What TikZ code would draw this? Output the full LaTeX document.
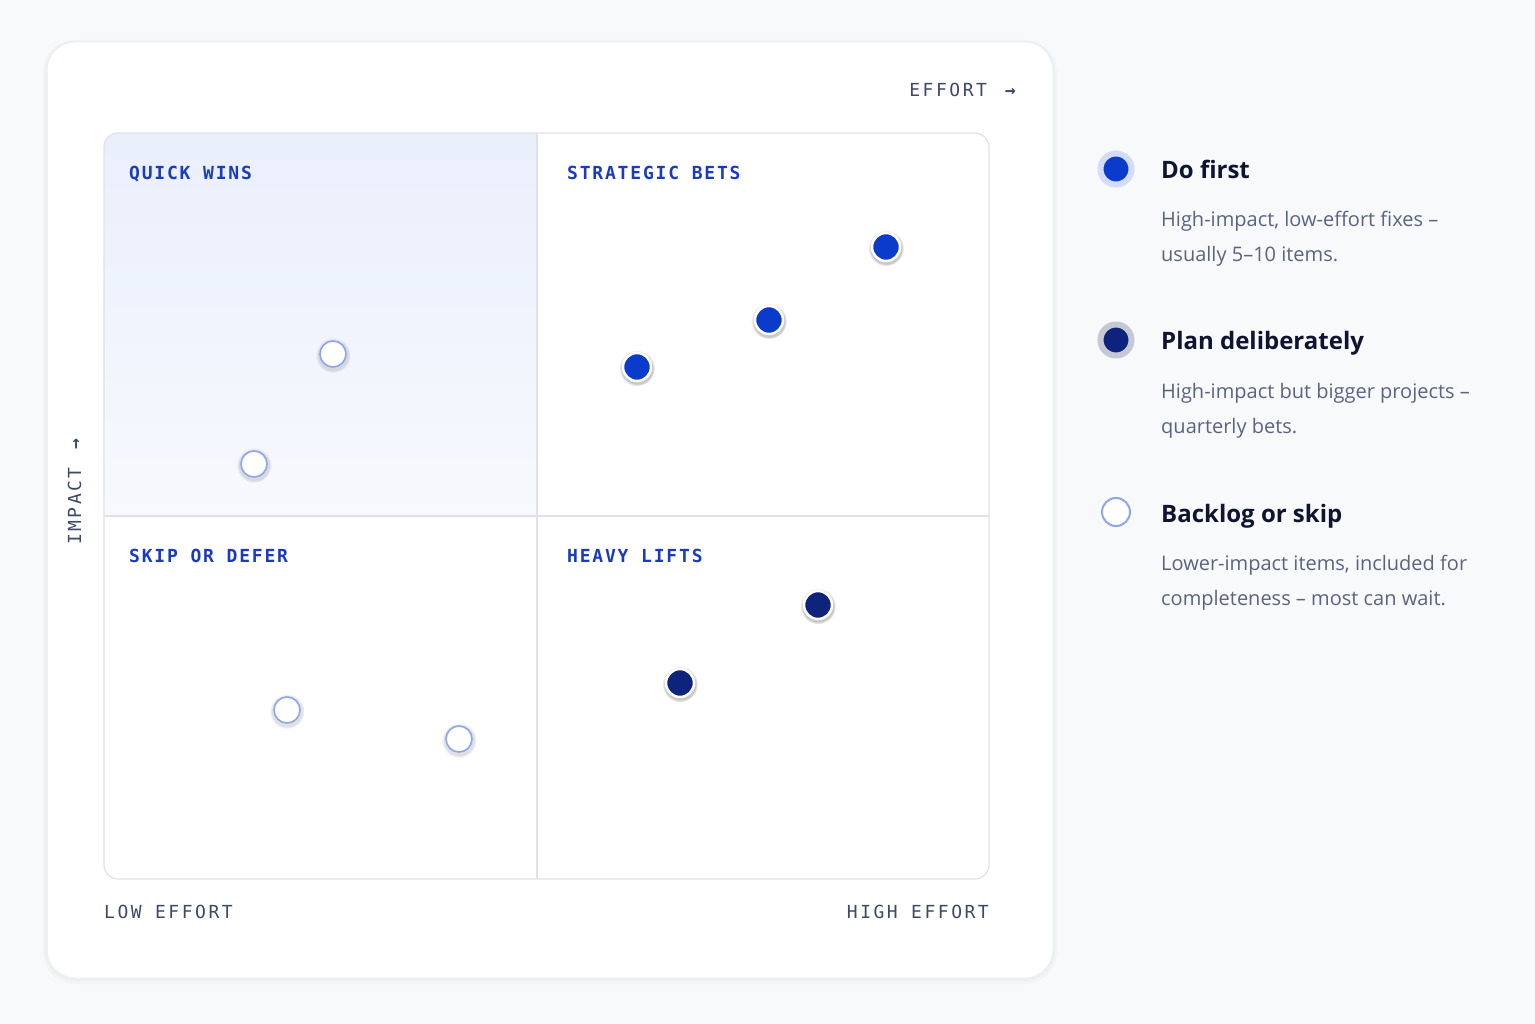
\documentclass[tikz,border=0pt]{standalone}
\usepackage{fontspec}
\setmainfont{Open Sans}
\newfontfamily\labelfont[LetterSpace=10]{DejaVu Sans Mono}
\newfontfamily\axisfont[LetterSpace=14]{DejaVu Sans Mono}
\usetikzlibrary{shadows}

\definecolor{pagebg}{HTML}{F8F9FA}
\definecolor{cardline}{HTML}{ECEEF1}
\definecolor{gridline}{HTML}{E0E2E7}
\definecolor{qwtop}{HTML}{EAEFFC}
\definecolor{qwbottom}{HTML}{F8F9FE}
\definecolor{labelblue}{HTML}{1A3BBE}
\definecolor{axisink}{HTML}{3E4966}
\definecolor{dotblue}{HTML}{0B3BCB}
\definecolor{dotnavy}{HTML}{0D237C}
\definecolor{hollowblue}{HTML}{8EA7EC}
\definecolor{halofirst}{HTML}{D3DCFA}
\definecolor{haloplan}{HTML}{C6C9D3}
\definecolor{titleink}{HTML}{0F1530}
\definecolor{descgray}{HTML}{5A6481}

\tikzstyle{quadlabel} = [anchor=base west, inner sep=0, font=\labelfont\fontsize{18}{18}\selectfont\bfseries, text=labelblue]
\tikzstyle{axislabel} = [inner sep=0, font=\axisfont\fontsize{18}{18}\selectfont, text=axisink]
\tikzstyle{dotshadow} = [circular drop shadow={shadow xshift=0pt, shadow yshift=-1pt, shadow scale=1.28, fill=black, opacity=0.22}]
\tikzstyle{dotfirst} = [circle, minimum size=28, inner sep=0, fill=dotblue, draw=white, line width=2.5, dotshadow]
\tikzstyle{dotplan} = [circle, minimum size=28, inner sep=0, fill=dotnavy, draw=white, line width=2.5, dotshadow]
\tikzstyle{dotskip} = [circle, minimum size=26, inner sep=0, fill=white, draw=hollowblue, line width=1.6, circular drop shadow={shadow xshift=0pt, shadow yshift=-1pt, shadow scale=1.35, fill=black, opacity=0.12}]
\tikzstyle{keyfirst} = [circle, minimum size=31, inner sep=0, fill=dotblue, draw=halofirst, line width=6]
\tikzstyle{keyplan} = [circle, minimum size=31, inner sep=0, fill=dotnavy, draw=haloplan, line width=6]
\tikzstyle{keyskip} = [circle, minimum size=28, inner sep=0, fill=white, draw=hollowblue, line width=2]
\tikzstyle{keytitle} = [anchor=base west, inner sep=0, font=\bfseries\fontsize{24}{30}\selectfont, text=titleink]
\tikzstyle{keytext} = [anchor=base west, inner sep=0, align=left, font=\fontsize{20}{35}\selectfont, text=descgray]

\begin{document}
\begin{tikzpicture}[x=1pt, y=-1pt]
		\useasboundingbox (0,0) rectangle (1535,1024);
		\fill[pagebg] (0,0) rectangle (1535,1024);

		% Card
		\fill[black, opacity=0.02, rounded corners=32] (43,40) rectangle (1057,984);
		\fill[black, opacity=0.02, rounded corners=30] (45,41) rectangle (1055,981);
		\filldraw[fill=white, draw=cardline, line width=1, rounded corners=28] (47,42) rectangle (1053,978);

		% Quadrants
		\begin{scope}
			\clip[rounded corners=14] (104,133) rectangle (989,879);
			\shade[top color=qwtop, bottom color=qwbottom] (104,133) rectangle (537,516);
		\end{scope}
		\draw[gridline, line width=1.2, rounded corners=14] (104,133) rectangle (989,879);
		\draw[gridline, line width=1.2] (537,133) -- (537,879);
		\draw[gridline, line width=1.2] (104,516) -- (989,516);

		\node (qw) [quadlabel] at (129,180) {QUICK WINS};
		\node (sb) [quadlabel] at (567,180) {STRATEGIC BETS};
		\node (sd) [quadlabel] at (129,562) {SKIP OR DEFER};
		\node (hl) [quadlabel] at (567,562) {HEAVY LIFTS};

		% Axes
		\node (effort) [axislabel, anchor=base east] at (1016,97) {EFFORT\hspace{18pt}{\bfseries →}};
		\node (impact) [axislabel, anchor=base west, rotate=90] at (81,545) {IMPACT\hspace{18pt}{\bfseries →}};
		\node (low) [axislabel, anchor=base west] at (104,918) {LOW EFFORT};
		\node (high) [axislabel, anchor=base east] at (989,918) {HIGH EFFORT};

		% Items
		\node (sb1) [dotfirst] at (886,247) {};
		\node (sb2) [dotfirst] at (769,320) {};
		\node (sb3) [dotfirst] at (637,367) {};
		\node (hl1) [dotplan] at (818,605) {};
		\node (hl2) [dotplan] at (680,683) {};
		\node (qw1) [dotskip] at (333,354) {};
		\node (qw2) [dotskip] at (254,464) {};
		\node (sd1) [dotskip] at (287,710) {};
		\node (sd2) [dotskip] at (459,739) {};

		% Legend
		\node (kfirst) [keyfirst] at (1116,169) {};
		\node (tfirst) [keytitle] at (1161,179) {Do first};
		\node (dfirst) [keytext] at (1161,262) {High-impact, low-effort fixes –\\usually 5–10 items.};

		\node (kplan) [keyplan] at (1116,340) {};
		\node (tplan) [keytitle] at (1161,350) {Plan deliberately};
		\node (dplan) [keytext] at (1161,433) {High-impact but bigger projects –\\quarterly bets.};

		\node (kskip) [keyskip] at (1116,512) {};
		\node (tskip) [keytitle] at (1161,522) {Backlog or skip};
		\node (dskip) [keytext] at (1161,605) {Lower-impact items, included for\\completeness – most can wait.};
	\end{tikzpicture}
\end{document}
